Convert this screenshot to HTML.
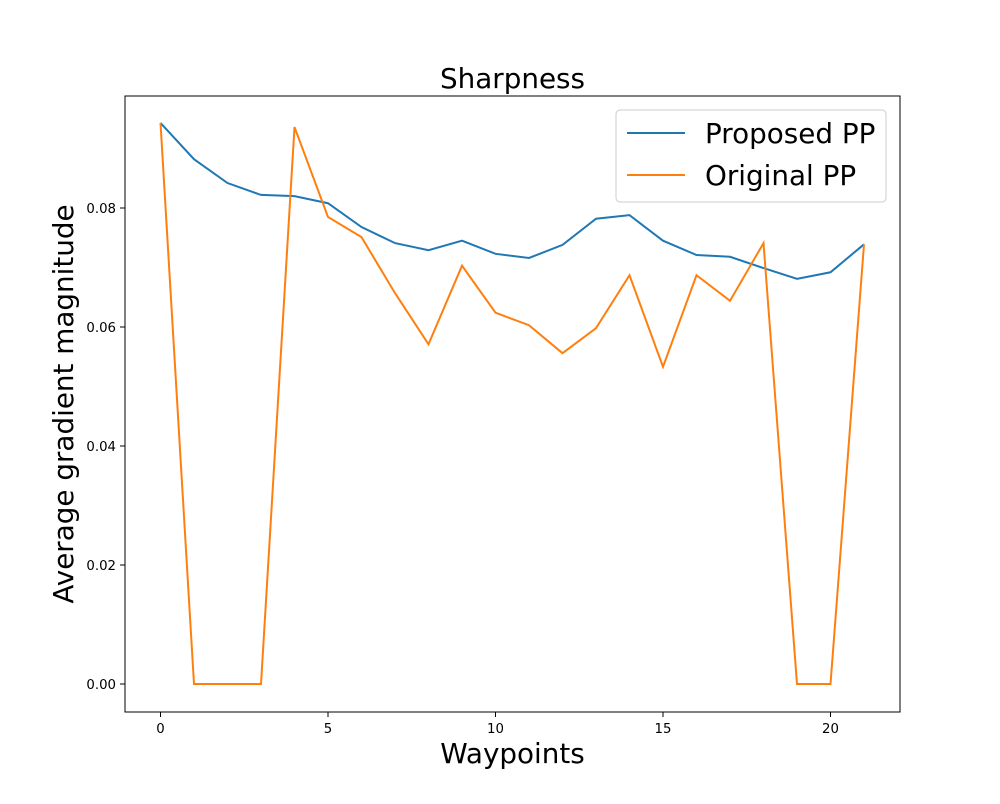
<!DOCTYPE html>
<html><head><meta charset="utf-8"><style>
body{margin:0;background:#fff;font-family:"DejaVu Sans","Liberation Sans",sans-serif;}
svg text{font-family:"DejaVu Sans","Liberation Sans",sans-serif;}
</style></head><body>
<svg width="1000" height="800" viewBox="0 0 1000 800" xmlns="http://www.w3.org/2000/svg" id="chart">
<rect x="0" y="0" width="1000" height="800" fill="#fff"/>
<text x="512.5" y="88" text-anchor="middle" font-size="27.8">Sharpness</text>
<text x="512.5" y="763" text-anchor="middle" font-size="27.8">Waypoints</text>
<text transform="translate(73,404) rotate(-90)" text-anchor="middle" font-size="27.8">Average gradient magnitude</text>
<g id="ticks"></g>
<g id="series"></g>
<rect x="125" y="96" width="775" height="616" fill="none" stroke="#000" stroke-width="1"/>
<g>
<rect x="616" y="110" width="270" height="92" rx="4" fill="#fff" fill-opacity="0.8" stroke="#ccc"/>
<g>
<line x1="627" y1="133" x2="685" y2="133" stroke="#1f77b4" stroke-width="2"/>
<text x="705" y="143" font-size="27.8">Proposed PP</text></g>
<g>
<line x1="627" y1="175" x2="685" y2="175" stroke="#ff7f0e" stroke-width="2"/>
<text x="705" y="185" font-size="27.8">Original PP</text></g>
</g>
</svg>
<script>
const waypoints=[0,1,2,3,4,5,6,7,8,9,10,11,12,13,14,15,16,17,18,19,20,21];
const proposedPP=[0.0943,0.0882,0.0842,0.0822,0.0820,0.0808,0.0768,0.0741,0.0729,0.0745,0.0723,0.0716,0.0738,0.0782,0.0788,0.0745,0.0721,0.0718,0.0699,0.0681,0.0692,0.0739];
const originalPP=[0.0943,0,0,0,0.0936,0.0785,0.0751,0.0657,0.0571,0.0703,0.0624,0.0603,0.0556,0.0598,0.0687,0.0533,0.0687,0.0644,0.0741,0,0,0.0739];
const xTicks=[0,5,10,15,20];
const yTicks=[0,0.02,0.04,0.06,0.08];
const yTickLabels=["0.00","0.02","0.04","0.06","0.08"];
const NS="http://www.w3.org/2000/svg";
function xs(v){return 160.5+v*33.5;}
function ys(v){return 684-v*5950;}
const tg=document.getElementById('ticks');
xTicks.forEach(t=>{
 const l=document.createElementNS(NS,'line');
 l.setAttribute('x1',xs(t));l.setAttribute('x2',xs(t));l.setAttribute('y1',712);l.setAttribute('y2',717);l.setAttribute('stroke','#000');
 
 
 tg.appendChild(l);
 const tx=document.createElementNS(NS,'text');
 tx.setAttribute('x',xs(t));tx.setAttribute('y',733);tx.setAttribute('text-anchor','middle');tx.setAttribute('font-size','13.3');tx.textContent=t;
 
 
 tg.appendChild(tx);
});
yTicks.forEach((t,i)=>{
 const l=document.createElementNS(NS,'line');
 l.setAttribute('x1',120);l.setAttribute('x2',125);l.setAttribute('y1',ys(t));l.setAttribute('y2',ys(t));l.setAttribute('stroke','#000');
 
 
 tg.appendChild(l);
 const tx=document.createElementNS(NS,'text');
 tx.setAttribute('x',116);tx.setAttribute('y',ys(t)+5);tx.setAttribute('text-anchor','end');tx.setAttribute('font-size','13.3');tx.textContent=yTickLabels[i];
 
 
 tg.appendChild(tx);
});
const sg=document.getElementById('series');
function line(vals,color,name){
 const p=document.createElementNS(NS,'polyline');
 p.setAttribute('points',vals.map((v,i)=>xs(waypoints[i])+','+ys(v)).join(' '));
 p.setAttribute('fill','none');p.setAttribute('stroke',color);p.setAttribute('stroke-width','2');
 
 
 sg.appendChild(p);
}
line(proposedPP,'#1f77b4','proposed-pp-line');
line(originalPP,'#ff7f0e','original-pp-line');
</script>
</body></html>
